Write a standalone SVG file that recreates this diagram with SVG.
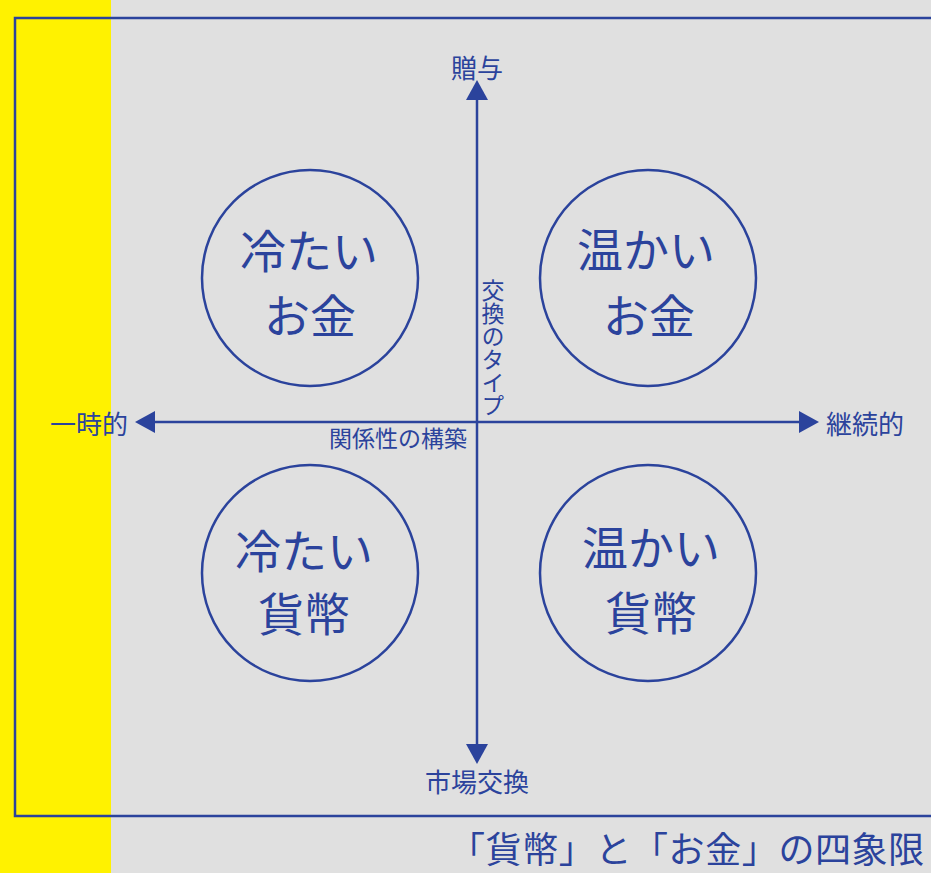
<svg xmlns="http://www.w3.org/2000/svg" width="931" height="873" viewBox="0 0 931 873">
<style>
text{font-family:"Noto Sans CJK JP","Noto Sans CJK SC",sans-serif;fill:#2b439c;}
.big{font-size:46px;text-anchor:middle;dominant-baseline:central;}
.lab{font-size:26px;dominant-baseline:central;}
.ring{fill:none;stroke:#2b439c;stroke-width:2.5;}
.axis{stroke:#2b439c;stroke-width:2.5;fill:none;}
.head{fill:#2b439c;}
</style>
<rect x="0" y="0" width="931" height="873" fill="#e0e0e0"/>
<rect x="0" y="0" width="111" height="873" fill="#fff200"/>
<rect x="15" y="18" width="1000" height="798" fill="none" stroke="#2b439c" stroke-width="2.5"/>
<g id="connectors">
<line class="axis" x1="477" y1="98" x2="477" y2="745"/>
<line class="axis" x1="153" y1="422" x2="800" y2="422"/>
<polygon class="head" points="477,80 466,100 488,100"/>
<polygon class="head" points="477,764 466,744 488,744"/>
<polygon class="head" points="135,422 155,411 155,433"/>
<polygon class="head" points="819,422 799,411 799,433"/>
</g>
<g id="cold-money">
<circle class="ring" cx="310" cy="278" r="108"/>
<text class="big" x="309" y="248">冷たい</text>
<text class="big" x="310" y="313">お金</text>
</g>
<g id="warm-money">
<circle class="ring" cx="648" cy="278" r="108"/>
<text class="big" x="646" y="247">温かい</text>
<text class="big" x="649" y="313">お金</text>
</g>
<g id="cold-currency">
<circle class="ring" cx="310" cy="573" r="108"/>
<text class="big" x="304" y="548">冷たい</text>
<text class="big" x="304" y="611">貨幣</text>
</g>
<g id="warm-currency">
<circle class="ring" cx="648" cy="573" r="108"/>
<text class="big" x="651" y="545">温かい</text>
<text class="big" x="651" y="610">貨幣</text>
</g>
<g id="labels">
<text class="lab" x="477" y="66" text-anchor="middle">贈与</text>
<text class="lab" x="477" y="780" text-anchor="middle">市場交換</text>
<text class="lab" x="128" y="422" text-anchor="end">一時的</text>
<text class="lab" x="826" y="422">継続的</text>
<text x="467" y="437" font-size="23" text-anchor="end" dominant-baseline="central">関係性の構築</text>
<text x="493" y="279" font-size="23" writing-mode="vertical-rl">交換のタイプ</text>
<text x="449" y="847" font-size="36" letter-spacing="0.6" dominant-baseline="central">「貨幣」と「お金」の四象限</text>
</g>
</svg>
